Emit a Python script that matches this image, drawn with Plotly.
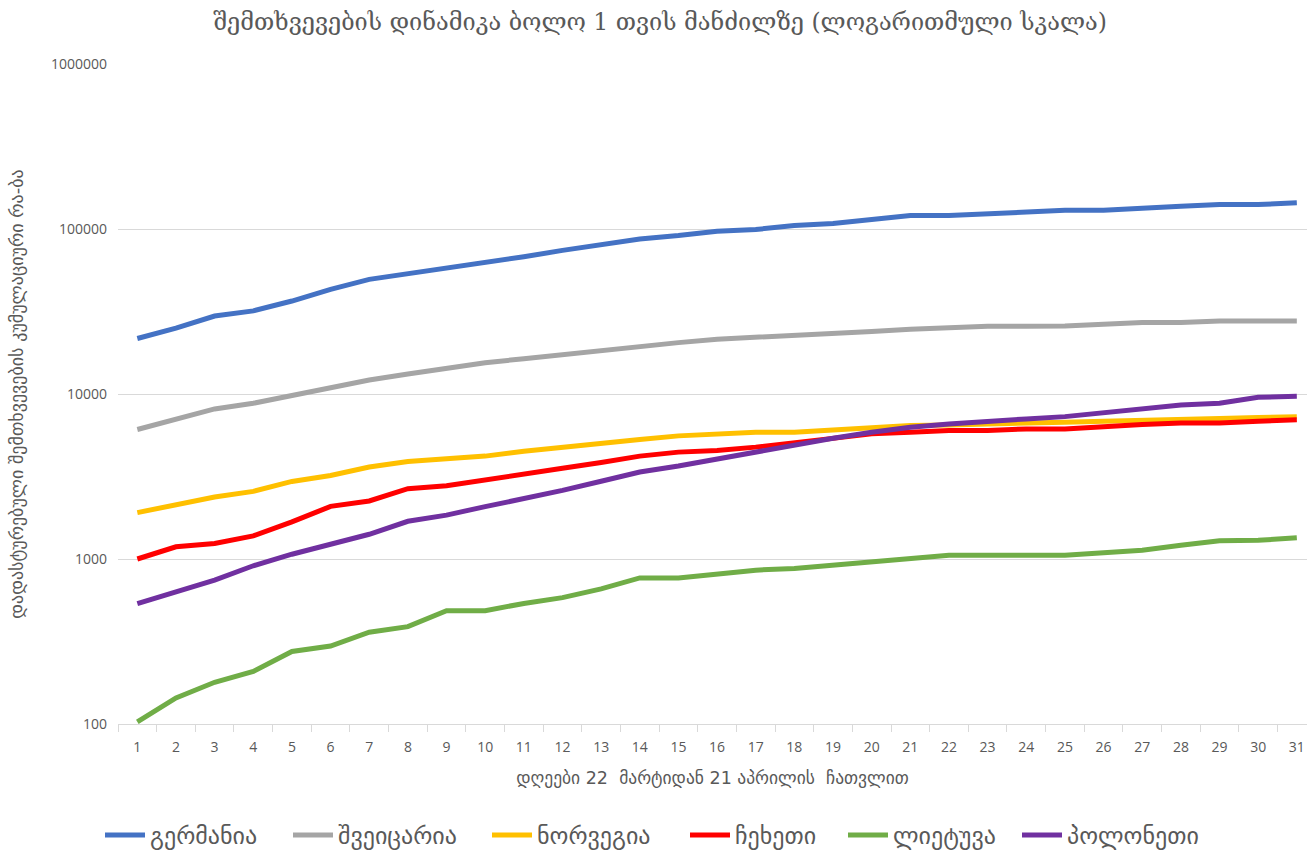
import plotly.graph_objects as go

days = list(range(1, 32))

germany = [21700, 25050, 29700, 31900, 36600, 43100, 49500, 53500, 57300, 61900,
           67900, 74200, 80600, 87000, 91300, 97000, 99300, 105000, 107900, 114100,
           120600, 120600, 123200, 125300, 129900, 129900, 134300, 137300, 140600, 140600, 144000]
switzerland = [6090, 6990, 8120, 8790, 9770, 10980, 12150, 13210, 14260, 15480,
               16360, 17330, 18400, 19580, 20480, 21490, 22010, 22510, 23270, 23930,
               24700, 25290, 25760, 25730, 25860, 26480, 27120, 27120, 27730, 27730, 27730]
norway = [1910, 2135, 2376, 2569, 2952, 3208, 3607, 3898, 4071, 4203,
          4494, 4764, 5016, 5296, 5575, 5733, 5870, 5870, 6061, 6206,
          6435, 6497, 6542, 6680, 6745, 6839, 6965, 7082, 7112, 7211, 7292]
czechia = [1000, 1185, 1241, 1381, 1678, 2084, 2247, 2667, 2781, 3001,
           3249, 3546, 3840, 4203, 4444, 4545, 4764, 5058, 5346, 5733,
           5870, 6001, 6001, 6145, 6145, 6380, 6524, 6680, 6680, 6839, 6993]
lithuania = [103, 144, 179, 208, 275, 297, 360, 389, 486, 486,
             538, 583, 659, 768, 768, 817, 856, 876, 917, 948,
             997, 1054, 1054, 1054, 1054, 1090, 1130, 1212, 1288, 1298, 1343]
poland = [536, 634, 745, 910, 1069, 1229, 1412, 1692, 1845, 2076,
          2321, 2604, 2960, 3365, 3661, 4049, 4444, 4871, 5398, 5870,
          6293, 6588, 6773, 7062, 7292, 7677, 8118, 8580, 8787, 9552, 9685]

series_names = ["გერმანია", "შვეიცარია", "ნორვეგია", "ჩეხეთი", "ლიეტუვა", "პოლონეთი"]
series_values = [germany, switzerland, norway, czechia, lithuania, poland]
colors = ["#4472C4", "#A5A5A5", "#FFC000", "#FF0000", "#70AD47", "#7030A0"]

y_tickvals = [100, 1000, 10000, 100000, 1000000]
y_ticktext = ["100", "1000", "10000", "100000", "1000000"]

title_text = "შემთხვევების დინამიკა ბოლო 1 თვის მანძილზე (ლოგარითმული სკალა)"
x_title = "დღეები 22  მარტიდან 21 აპრილის  ჩათვლით"
y_title = "დადასტურებული შემთხვევების კუმულაციური რა-ბა"

W, H = 1307, 858
ML, MR, MT, MB = 118, 0, 64, 132
plot_w = W - ML - MR
plot_h = H - MT - MB

# legend entry left edges (px) as laid out in the reference
legend_px = [100, 288, 487, 685, 843, 1017]
legend_ids = ["legend", "legend2", "legend3", "legend4", "legend5", "legend6"]

fig = go.Figure()
for name, vals, col, lid in zip(series_names, series_values, colors, legend_ids):
    fig.add_trace(go.Scatter(x=days, y=vals, mode="lines", name=name, legend=lid,
                             line=dict(color=col, width=5)))

txt = "#595959"
legend_y = (MT + plot_h - 838) / plot_h
legend_layout = {}
for lid, px in zip(legend_ids, legend_px):
    legend_layout[lid] = dict(orientation="h", x=(px - ML) / plot_w, xanchor="left",
                              y=legend_y, yanchor="middle", bgcolor="rgba(0,0,0,0)",
                              font=dict(family="DejaVu Sans", size=24, color=txt),
                              itemwidth=40)

fig.update_layout(
    width=W, height=H,
    margin=dict(l=ML, r=MR, t=MT, b=MB),
    paper_bgcolor="white", plot_bgcolor="white",
    title=dict(text=title_text, x=0.505, xanchor="center", y=1 - 22 / H, yanchor="middle",
               font=dict(family="DejaVu Serif, DejaVu Sans", size=23.5, color=txt)),
    showlegend=True,
    font=dict(family="Open Sans", color=txt),
    **legend_layout,
)
fig.update_xaxes(
    range=[0.5, 0.5 + plot_w / 38.65], tickmode="array", tickvals=days, ticktext=[str(d) for d in days],
    showgrid=False, showline=True, linecolor="#D9D9D9", linewidth=1,
    ticks="", tickfont=dict(size=14, color=txt, family="Open Sans"), ticklabelstandoff=10,
    ticklabeloverflow="allow",
    minor=dict(ticks="outside", tick0=0.5, dtick=1, ticklen=7, tickcolor="#D9D9D9", showgrid=False),
    title=dict(text=x_title, font=dict(family="DejaVu Sans", size=17.5, color=txt), standoff=16),
    zeroline=False,
)
fig.update_yaxes(
    type="log", range=[2, 6], tickmode="array", tickvals=y_tickvals, ticktext=y_ticktext,
    showgrid=True, gridcolor="#D9D9D9", gridwidth=1, showline=False, zeroline=False,
    tickfont=dict(size=14, color=txt, family="Open Sans"), ticks="", ticklabelstandoff=10,
    title=dict(text=y_title, font=dict(family="DejaVu Sans", size=18, color=txt), standoff=22),
)
fig.write_html("out.html", config={"displayModeBar": False},
               post_script="document.body.style.margin='0px';")
